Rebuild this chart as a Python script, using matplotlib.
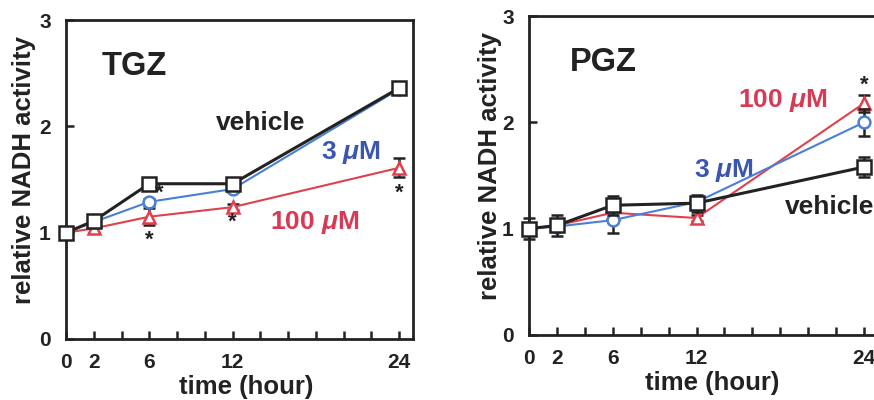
import matplotlib
matplotlib.use("Agg")
import matplotlib.pyplot as plt

plt.rcParams['font.family'] = ['Liberation Sans', 'DejaVu Sans']
plt.rcParams['font.weight'] = 'bold'
plt.rcParams['mathtext.fontset'] = 'custom'
plt.rcParams['mathtext.it'] = 'Liberation Sans:italic:bold'
plt.rcParams['mathtext.rm'] = 'Liberation Sans:bold'

hours = [0, 2, 6, 12, 24]
tick_hours = [0, 2, 4, 6, 8, 10, 12, 14, 16, 18, 20, 22, 24]
tick_labels = ['0', '2', '', '6', '', '', '12', '', '', '', '', '', '24']

tgz_vehicle = [1.0, 1.11, 1.46, 1.46, 2.36]
tgz_3uM = [1.0, 1.10, 1.29, 1.41, 2.35]
tgz_100uM = [1.0, 1.04, 1.15, 1.24, 1.61]
tgz_vehicle_err = [0.02, 0.03, 0.03, 0.03, 0.04]
tgz_3uM_err = [0.0, 0.03, 0.03, 0.03, 0.03]
tgz_100uM_err = [0.0, 0.04, 0.08, 0.03, 0.09]
tgz_stars_x = [6.7, 6.0, 12.0, 24.0]
tgz_stars_y = [1.37, 0.93, 1.10, 1.37]

pgz_vehicle = [1.0, 1.03, 1.22, 1.24, 1.58]
pgz_3uM = [1.0, 1.02, 1.08, 1.25, 2.0]
pgz_100uM = [1.0, 1.03, 1.15, 1.10, 2.18]
pgz_vehicle_err = [0.10, 0.10, 0.09, 0.08, 0.09]
pgz_3uM_err = [0.0, 0.03, 0.12, 0.05, 0.13]
pgz_100uM_err = [0.0, 0.03, 0.05, 0.03, 0.08]
pgz_stars_x = [24.0]
pgz_stars_y = [2.35]

BLACK = '#222222'
BLUE = '#4a7fd6'
BLUE_TXT = '#3a56b0'
RED = '#e0404e'
RED_TXT = '#d63a55'

fig = plt.figure(figsize=(8.74, 4.0), dpi=100)
ax1 = fig.add_axes([66/874, 61/400, 347/874, 319/400])
ax2 = fig.add_axes([529/874, 65/400, 349/874, 319/400])


def draw(ax, veh, veh_e, u3, u3_e, u100, u100_e, sx, sy, title, labels,
         xlab_x, ylab_pad):
    common = dict(capsize=4.5, capthick=2.4, elinewidth=1.8, ecolor=BLACK,
                  mfc='white', mew=1.8)
    for series, err, col, lw, mk, ms, z in [
            (u100, u100_e, RED, 1.5, '^', 9, 3),
            (u3, u3_e, BLUE, 1.5, 'o', 8.5, 4),
            (veh, veh_e, BLACK, 2.2, 's', 9.5, 5)]:
        cont = ax.errorbar(hours, series, yerr=err, color=col, lw=lw, marker=mk,
                           ms=ms, mec=col, zorder=z, **common)
        for art in cont.get_children():
            art.set_clip_on(False)
    for x, y in zip(sx, sy):
        ax.text(x, y, '*', ha='center', va='center', fontsize=16,
                color=BLACK, zorder=6)
    ax.set_xlim(0, 25)
    ax.set_ylim(0, 3)
    ax.set_xticks(tick_hours)
    ax.set_xticklabels(tick_labels)
    ax.set_yticks([0, 1, 2, 3])
    ax.tick_params(axis='both', direction='in', length=6, width=1.8,
                   labelsize=15, colors=BLACK)
    ax.tick_params(axis='x', pad=10)
    ax.tick_params(axis='y', pad=11)
    for s in ax.spines.values():
        s.set_linewidth(2.0)
        s.set_color(BLACK)
    for lab in ax.get_xticklabels() + ax.get_yticklabels():
        lab.set_fontweight('bold')
    ax.set_xlabel('time (hour)', fontsize=18.5, fontweight='bold', color=BLACK,
                  labelpad=2, x=xlab_x)
    ax.set_ylabel('relative NADH activity', fontsize=18.5, fontweight='bold',
                  color=BLACK, labelpad=ylab_pad, y=0.53)
    ax.text(title[1], title[2], title[0], fontsize=23.5, fontweight='bold',
            color=BLACK, va='center', ha='left')
    for txt, x, y, c in labels:
        ax.text(x, y, txt, fontsize=19, fontweight='bold', color=c,
                va='center', ha='left')


draw(ax1, tgz_vehicle, tgz_vehicle_err, tgz_3uM, tgz_3uM_err, tgz_100uM,
     tgz_100uM_err, tgz_stars_x, tgz_stars_y, ('TGZ', 2.6, 2.56),
     [('vehicle', 10.8, 2.03, BLACK),
      (r'3 $\mu$M', 18.4, 1.75, BLUE_TXT),
      (r'100 $\mu$M', 14.7, 1.10, RED_TXT)], 0.52, 2)
draw(ax2, pgz_vehicle, pgz_vehicle_err, pgz_3uM, pgz_3uM_err, pgz_100uM,
     pgz_100uM_err, pgz_stars_x, pgz_stars_y, ('PGZ', 2.9, 2.56),
     [('vehicle', 18.3, 1.20, BLACK),
      (r'3 $\mu$M', 11.8, 1.55, BLUE_TXT),
      (r'100 $\mu$M', 15.0, 2.21, RED_TXT)], 0.526, 0)

fig.savefig('out.png', dpi=100)
